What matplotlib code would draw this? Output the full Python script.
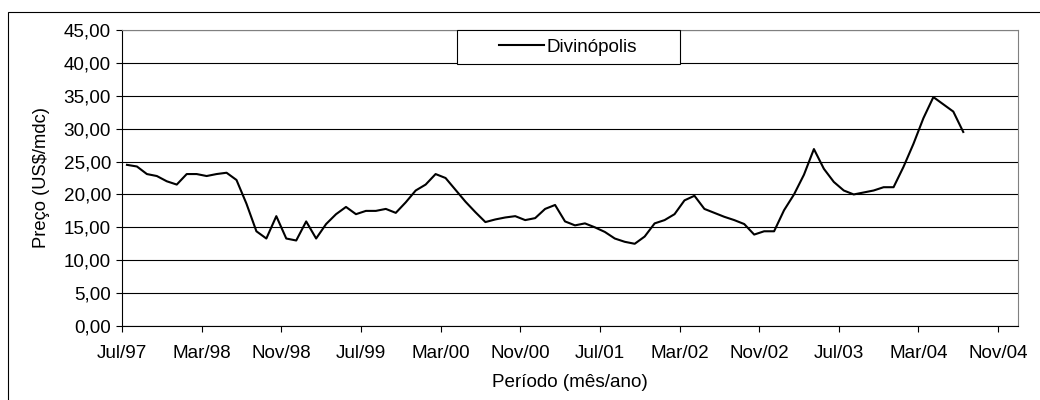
import numpy as np
import matplotlib
matplotlib.use("Agg")
import matplotlib.pyplot as plt
from matplotlib.patches import Rectangle
from matplotlib.legend_handler import HandlerLine2D

# monthly price, Jul/97 .. Jul/04
preco = [24.5, 24.25, 23.1, 22.8, 22.0, 21.5, 23.1, 23.1, 22.8, 23.1,
         23.3, 22.2, 18.6, 14.4, 13.3, 16.7, 13.3, 13.0, 15.9, 13.3,
         15.5, 17.0, 18.1, 17.0, 17.5, 17.5, 17.8, 17.2, 18.8, 20.6,
         21.5, 23.1, 22.5, 20.7, 18.9, 17.3, 15.8, 16.2, 16.5, 16.7,
         16.1, 16.4, 17.8, 18.4, 15.9, 15.3, 15.6, 15.0, 14.3, 13.3,
         12.8, 12.5, 13.6, 15.6, 16.1, 17.0, 19.1, 19.8, 17.8, 17.2,
         16.6, 16.1, 15.5, 13.9, 14.4, 14.4, 17.6, 20.0, 23.0, 26.9,
         23.9, 21.9, 20.6, 20.0, 20.3, 20.6, 21.1, 21.1, 24.2, 27.7,
         31.6, 34.8, 33.7, 32.6, 29.5]
tick_labels = ["Jul/97", "Mar/98", "Nov/98", "Jul/99", "Mar/00", "Nov/00",
               "Jul/01", "Mar/02", "Nov/02", "Jul/03", "Mar/04", "Nov/04"]
serie = "Divinópolis"

plt.rcParams['font.family'] = ['Liberation Sans', 'DejaVu Sans']
plt.rcParams['font.size'] = 13.6

fig = plt.figure(figsize=(10.4, 4), dpi=100)
ax = fig.add_axes([122 / 1040, 74 / 400, 896 / 1040, 296 / 400])

# excel style category axis: points sit in the middle of each month slot
x = np.arange(len(preco)) + 0.5
ax.plot(x, preco, color='black', lw=1.5, label=serie)

ax.set_xlim(0, 90)
ax.set_ylim(0, 45)
ax.set_xticks(np.arange(len(tick_labels)) * 8)
ax.set_xticklabels(tick_labels)
yt = np.arange(0, 46, 5)
ax.set_yticks(yt)
ax.set_yticklabels([f"{v:.2f}".replace('.', ',') for v in yt])
ax.tick_params(axis='both', direction='out', length=4, width=0.8, color='black')
ax.tick_params(axis='x', pad=10)
ax.tick_params(axis='y', pad=4)

ax.grid(axis='y', color='black', lw=0.8)
ax.set_axisbelow(True)
for s in ['top', 'right']:
    ax.spines[s].set_color('#808080')
for s in ['left', 'bottom']:
    ax.spines[s].set_color('black')

ax.set_xlabel("Período (mês/ano)", labelpad=8)
ax.set_ylabel("Preço (US$/mdc)", fontsize=13.2, labelpad=10)

leg = ax.legend(loc='upper left', bbox_to_anchor=(0.374, 0, 0.249, 1.0),
                mode='expand', borderaxespad=0, borderpad=0.45,
                handlelength=4.15, handletextpad=0.15, fancybox=False,
                framealpha=1, edgecolor='black',
                handler_map={plt.Line2D: HandlerLine2D(xpad=1.77)})
leg.get_frame().set_linewidth(0.8)

# chart area border (only left and top are visible in the picture)
fig.patches.append(Rectangle((8 / 1040, -0.1), 1.2, 1.1 - 12 / 400,
                             transform=fig.transFigure, fill=False,
                             edgecolor='black', lw=0.8))

fig.savefig("out.png", dpi=100)
